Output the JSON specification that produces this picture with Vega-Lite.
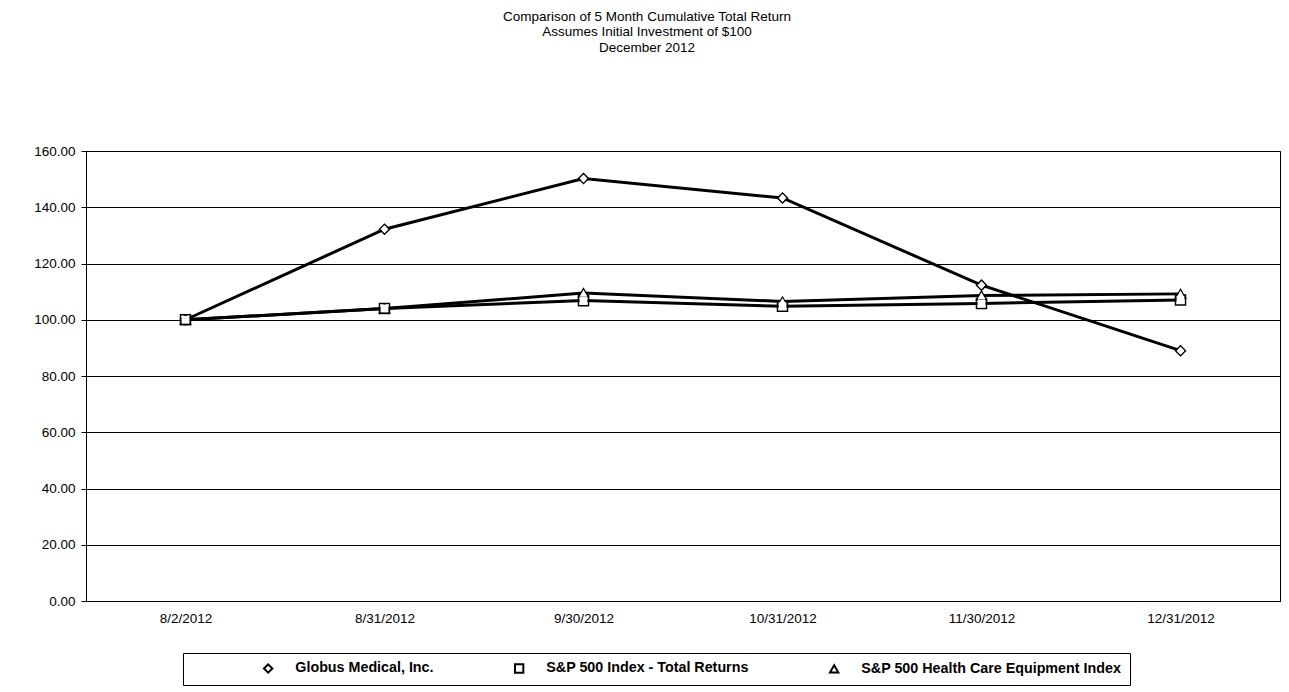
{
  "$schema": "https://vega.github.io/schema/vega-lite/v6.json",
  "width": 1194,
  "height": 450,
  "autosize": {"type": "none"},
  "padding": {"left": 86, "top": 151, "right": 9, "bottom": 91},
  "background": "white",
  "title": {
    "text": ["Comparison  of 5 Month Cumulative  Total Return", "Assumes Initial Investment  of $100", "December 2012"],
    "anchor": "middle",
    "dx": -36,
    "offset": 90,
    "font": "Liberation Sans",
    "fontSize": 13.5,
    "fontWeight": "normal",
    "lineHeight": 15.5,
    "color": "black"
  },
  "config": {
    "view": {"stroke": "black", "strokeWidth": 1},
    "font": "Liberation Sans"
  },
  "data": {
    "values": [
      {"date": "8/2/2012", "series": "Globus Medical, Inc.", "value": 100},
      {"date": "8/31/2012", "series": "Globus Medical, Inc.", "value": 132.2},
      {"date": "9/30/2012", "series": "Globus Medical, Inc.", "value": 150.2},
      {"date": "10/31/2012", "series": "Globus Medical, Inc.", "value": 143.3},
      {"date": "11/30/2012", "series": "Globus Medical, Inc.", "value": 112.3},
      {"date": "12/31/2012", "series": "Globus Medical, Inc.", "value": 89},
      {"date": "8/2/2012", "series": "S&P 500 Index - Total Returns", "value": 100},
      {"date": "8/31/2012", "series": "S&P 500 Index - Total Returns", "value": 104},
      {"date": "9/30/2012", "series": "S&P 500 Index - Total Returns", "value": 106.8},
      {"date": "10/31/2012", "series": "S&P 500 Index - Total Returns", "value": 104.8},
      {"date": "11/30/2012", "series": "S&P 500 Index - Total Returns", "value": 105.8},
      {"date": "12/31/2012", "series": "S&P 500 Index - Total Returns", "value": 107},
      {"date": "8/2/2012", "series": "S&P 500 Health Care Equipment Index", "value": 100},
      {"date": "8/31/2012", "series": "S&P 500 Health Care Equipment Index", "value": 104},
      {"date": "9/30/2012", "series": "S&P 500 Health Care Equipment Index", "value": 109.5},
      {"date": "10/31/2012", "series": "S&P 500 Health Care Equipment Index", "value": 106.5},
      {"date": "11/30/2012", "series": "S&P 500 Health Care Equipment Index", "value": 108.6},
      {"date": "12/31/2012", "series": "S&P 500 Health Care Equipment Index", "value": 109.2}
    ]
  },
  "encoding": {
    "x": {
      "field": "date",
      "type": "ordinal",
      "sort": ["8/2/2012", "8/31/2012", "9/30/2012", "10/31/2012", "11/30/2012", "12/31/2012"],
      "scale": {"type": "point", "padding": 0.5},
      "axis": {
        "title": null,
        "labelAngle": 0,
        "labelFont": "Liberation Sans",
        "labelFontSize": 13.5,
        "labelColor": "black",
        "labelPadding": 10,
        "domainColor": "black",
        "ticks": false,
        "grid": false
      }
    },
    "y": {
      "field": "value",
      "type": "quantitative",
      "scale": {"domain": [0, 160], "nice": false},
      "axis": {
        "title": null,
        "values": [0, 20, 40, 60, 80, 100, 120, 140, 160],
        "format": ".2f",
        "labelFont": "Liberation Sans",
        "labelFontSize": 13.5,
        "labelColor": "black",
        "labelPadding": 6,
        "tickSize": 5,
        "tickColor": "black",
        "domainColor": "black",
        "grid": true,
        "gridColor": "black",
        "gridOpacity": 1,
        "gridWidth": 1
      }
    }
  },
  "layer": [
    {
      "mark": {"type": "line", "color": "black", "strokeWidth": 3},
      "encoding": {"detail": {"field": "series"}}
    },
    {
      "mark": {"type": "point", "filled": false, "color": "black", "strokeWidth": 1.5, "size": 100, "opacity": 1},
      "encoding": {
        "shape": {
          "field": "series",
          "type": "nominal",
          "sort": ["Globus Medical, Inc.", "S&P 500 Index - Total Returns", "S&P 500 Health Care Equipment Index"],
          "scale": {"range": ["diamond", "square", "triangle-up"]},
          "legend": {
            "title": null,
            "orient": "none",
            "legendX": 97,
            "legendY": 502,
            "direction": "horizontal",
            "strokeColor": "black",
            "padding": 8,
            "columnPadding": 8,
            "labelFont": "Liberation Sans",
            "labelFontSize": 14.3,
            "labelFontWeight": "bold",
            "labelColor": "black",
            "labelLimit": 400,
            "labelOffset": 20,
            "symbolOffset": 70,
            "symbolStrokeColor": "black",
            "symbolStrokeWidth": 2,
            "symbolSize": 70
          }
        }
      }
    },
    {
      "mark": {"type": "point", "filled": true, "color": "white", "size": 60, "opacity": 1},
      "encoding": {
        "shape": {
          "field": "series",
          "type": "nominal",
          "sort": ["Globus Medical, Inc.", "S&P 500 Index - Total Returns", "S&P 500 Health Care Equipment Index"],
          "legend": null
        }
      }
    }
  ]
}
